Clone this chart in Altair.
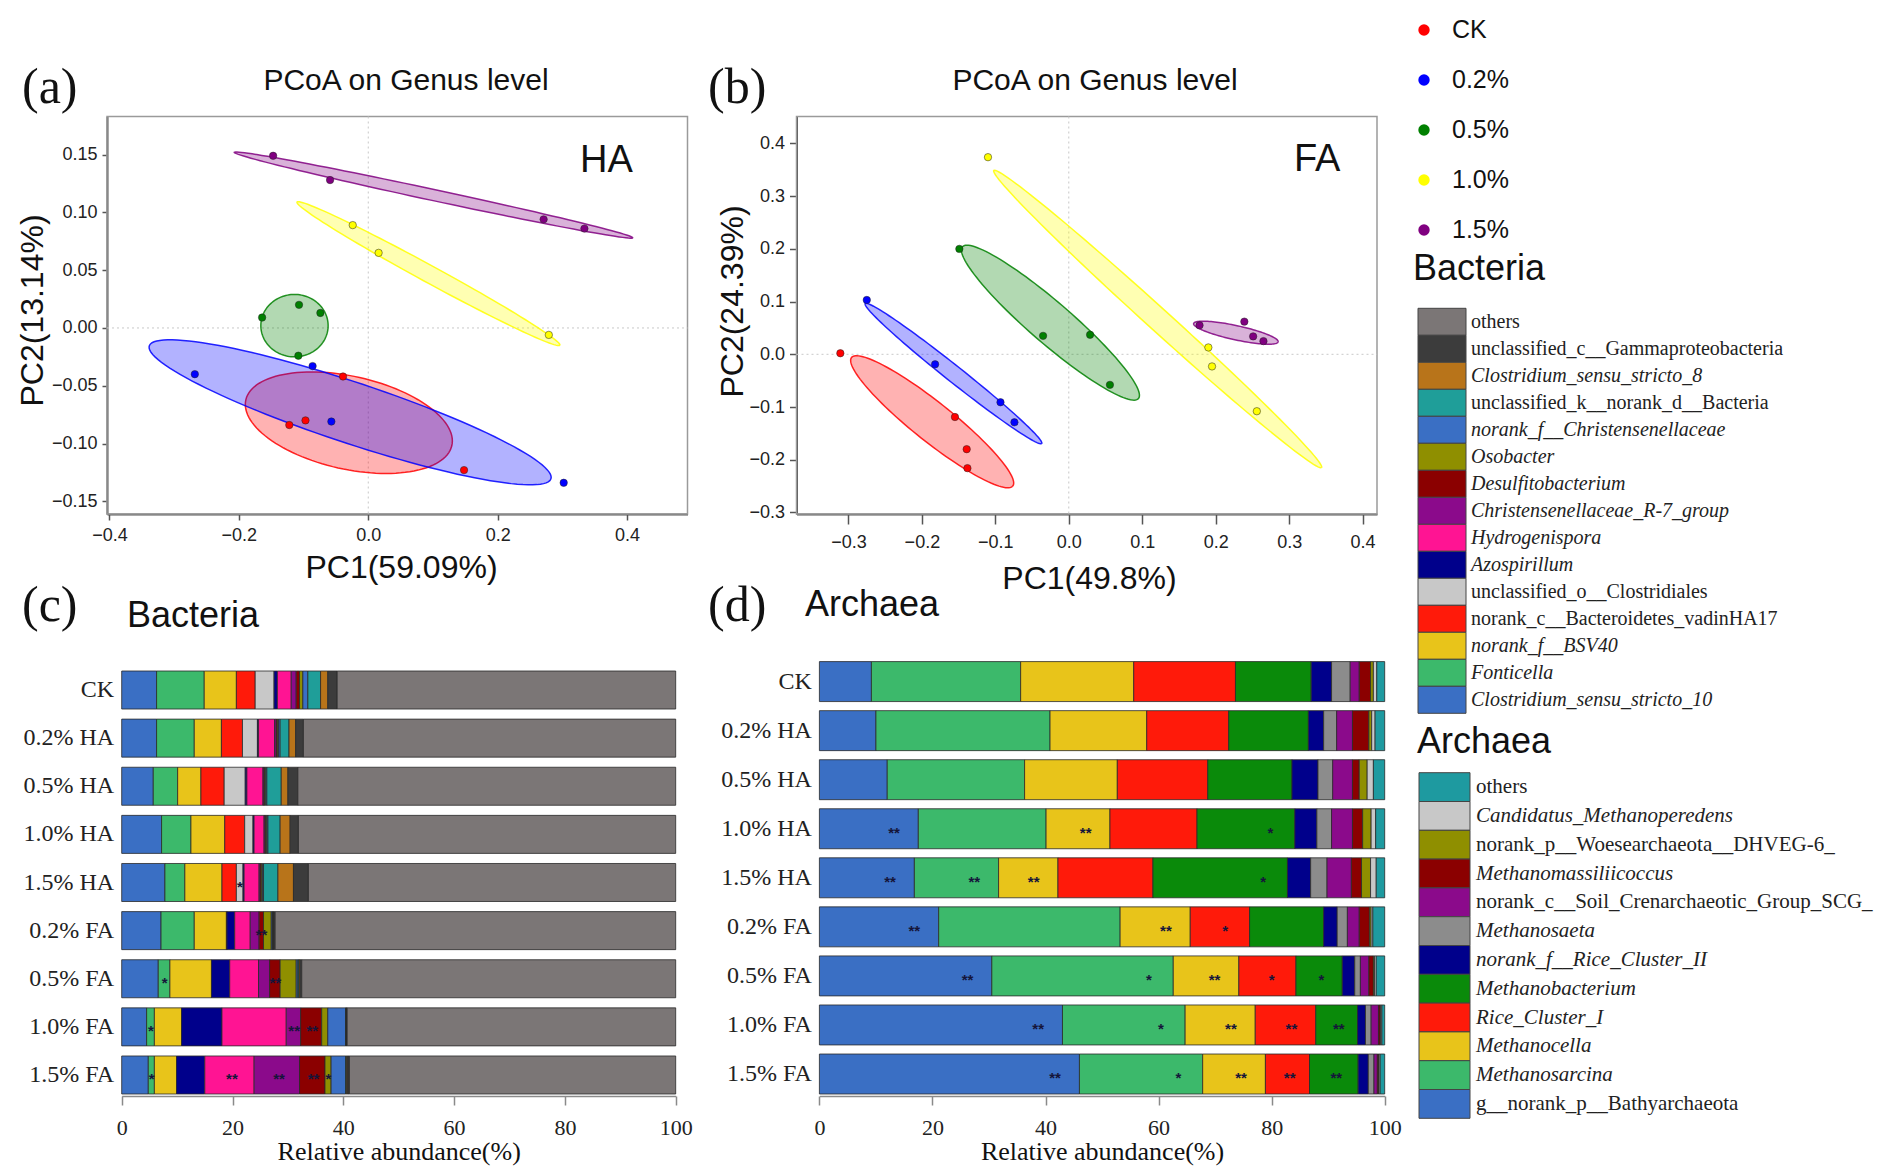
import altair as alt
import numpy as np
import pandas as pd

W, H = 1877, 1159

# ---------------- PCoA groups ----------------
groups = ["CK", "0.2%", "0.5%", "1.0%", "1.5%"]
group_colors = ["#ff0000", "#0000ff", "#008000", "#ffff00", "#800080"]

# (a) HA scores
ha_group = ["CK"] * 4 + ["0.2%"] * 4 + ["0.5%"] * 4 + ["1.0%"] * 3 + ["1.5%"] * 4
ha_pc1 = [-0.122, -0.097, -0.039, 0.148,
          -0.268, -0.086, -0.057, 0.302,
          -0.164, -0.107, -0.074, -0.108,
          -0.024, 0.016, 0.279,
          -0.147, -0.059, 0.271, 0.334]
ha_pc2 = [-0.084, -0.080, -0.042, -0.123,
          -0.040, -0.033, -0.081, -0.134,
          0.009, 0.020, 0.013, -0.024,
          0.089, 0.065, -0.006,
          0.149, 0.128, 0.094, 0.086]
# (a) ellipse centre, major and minor half-axis vectors (per group)
ha_ell_cx = [-0.030, -0.028, -0.114, 0.093, 0.101]
ha_ell_cy = [-0.082, -0.073, 0.002, 0.047, 0.115]
ha_ell_ax = [0.158, 0.310, 0.052, 0.203, 0.308]
ha_ell_ay = [-0.022, -0.058, 0.0, -0.062, -0.037]
ha_ell_bx = [-0.025, -0.0205, 0.0, -0.0083, -0.0026]
ha_ell_by = [-0.038, -0.024, 0.027, -0.0059, -0.0046]

# (b) FA scores
fa_group = ["CK"] * 4 + ["0.2%"] * 4 + ["0.5%"] * 4 + ["1.0%"] * 4 + ["1.5%"] * 4
fa_pc1 = [-0.311, -0.155, -0.139, -0.138,
          -0.275, -0.182, -0.093, -0.074,
          -0.149, -0.035, 0.029, 0.056,
          -0.110, 0.190, 0.195, 0.256,
          0.178, 0.239, 0.251, 0.265]
fa_pc2 = [0.002, -0.119, -0.180, -0.216,
          0.103, -0.019, -0.091, -0.129,
          0.200, 0.035, 0.037, -0.058,
          0.374, 0.013, -0.023, -0.108,
          0.055, 0.062, 0.034, 0.025]
fa_ell_cx = [-0.186, -0.157, -0.025, 0.121, 0.2275]
fa_ell_cy = [-0.128, -0.0365, 0.060, 0.067, 0.041]
fa_ell_ax = [0.109, 0.120, 0.119, 0.223, 0.0575]
fa_ell_ay = [-0.123, -0.133, -0.145, -0.282, -0.0176]
fa_ell_bx = [-0.021, -0.0088, -0.023, -0.0126, -0.0031]
fa_ell_by = [-0.024, -0.010, -0.024, -0.0126, -0.0129]

# ---------------- community composition ----------------
samples = ["CK", "0.2% HA", "0.5% HA", "1.0% HA", "1.5% HA",
           "0.2% FA", "0.5% FA", "1.0% FA", "1.5% FA"]

bac_names = ["Clostridium_sensu_stricto_10", "Fonticella", "norank_f__BSV40",
             "norank_c__Bacteroidetes_vadinHA17", "unclassified_o__Clostridiales",
             "Azospirillum", "Hydrogenispora", "Christensenellaceae_R-7_group",
             "Desulfitobacterium", "Osobacter", "norank_f__Christensenellaceae",
             "unclassified_k__norank_d__Bacteria", "Clostridium_sensu_stricto_8",
             "unclassified_c__Gammaproteobacteria", "others"]
bac_colors = ["#3a6fc4", "#3cb96b", "#e8c41a", "#ff1a0a", "#c8c8c8",
              "#00008b", "#ff1493", "#8b0a8b", "#8b0000", "#8f8f00",
              "#3a6fc4", "#1f9e99", "#b8741a", "#3c3c3c", "#7b7676"]
bac_italic = ["Clostridium_sensu_stricto_10", "Fonticella", "norank_f__BSV40",
              "Azospirillum", "Hydrogenispora", "Christensenellaceae_R-7_group",
              "Desulfitobacterium", "Osobacter", "norank_f__Christensenellaceae",
              "Clostridium_sensu_stricto_8"]

bac_ck = [6.3, 8.6, 5.8, 3.4, 3.4, 0.6, 2.5, 0.9, 0.6, 0.6, 0.9, 2.3, 1.3, 1.7, 61.1]
bac_02ha = [6.3, 6.8, 4.9, 3.8, 2.7, 0.2, 2.9, 0.3, 0.2, 0.2, 0.3, 1.6, 1.2, 1.4, 67.2]
bac_05ha = [5.7, 4.4, 4.2, 4.2, 3.8, 0.3, 2.9, 0.2, 0.1, 0.2, 0.2, 2.6, 1.2, 1.8, 68.2]
bac_10ha = [7.2, 5.3, 6.1, 3.6, 1.5, 0.2, 1.8, 0.2, 0.1, 0.2, 0.2, 2.2, 1.8, 1.5, 68.1]
bac_15ha = [7.8, 3.6, 6.7, 2.6, 1.2, 0.2, 2.7, 0.2, 0.2, 0.2, 0.2, 2.6, 2.8, 2.7, 66.3]
bac_02fa = [7.1, 6.0, 5.8, 0.1, 0.0, 1.4, 2.8, 1.6, 0.8, 1.4, 0.2, 0.1, 0.1, 0.3, 72.3]
bac_05fa = [6.6, 2.1, 7.5, 0.0, 0.0, 3.3, 5.2, 2.0, 1.9, 2.9, 0.3, 0.2, 0.2, 0.3, 67.5]
bac_10fa = [4.5, 1.4, 4.9, 0.0, 0.0, 7.3, 11.6, 2.6, 3.8, 1.1, 3.2, 0.1, 0.1, 0.1, 59.3]
bac_15fa = [4.8, 1.1, 4.0, 0.0, 0.0, 5.1, 8.9, 8.2, 4.6, 1.1, 2.6, 0.2, 0.2, 0.3, 58.9]

arc_names = ["g__norank_p__Bathyarchaeota", "Methanosarcina", "Methanocella",
             "Rice_Cluster_I", "Methanobacterium", "norank_f__Rice_Cluster_II",
             "Methanosaeta", "norank_c__Soil_Crenarchaeotic_Group_SCG_",
             "Methanomassiliicoccus", "norank_p__Woesearchaeota__DHVEG-6_",
             "Candidatus_Methanoperedens", "others"]
arc_colors = ["#3a6fc4", "#3cb96b", "#e8c41a", "#ff1a0a", "#0a8a0a", "#00008b",
              "#8c8c8c", "#8b0a8b", "#8b0000", "#8f8f00", "#c8c8c8", "#1e9aa0"]
arc_italic = ["Methanosarcina", "Methanocella", "Rice_Cluster_I", "Methanobacterium",
              "norank_f__Rice_Cluster_II", "Methanosaeta", "Methanomassiliicoccus",
              "Candidatus_Methanoperedens"]

arc_ck = [9.2, 26.4, 20.0, 18.0, 13.4, 3.6, 3.3, 1.6, 2.0, 0.5, 0.6, 1.4]
arc_02ha = [10.0, 30.8, 17.1, 14.5, 14.1, 2.7, 2.3, 2.8, 2.9, 0.5, 0.6, 1.7]
arc_05ha = [12.0, 24.3, 16.4, 16.0, 14.9, 4.6, 2.6, 3.5, 1.2, 1.4, 1.1, 2.0]
arc_10ha = [17.5, 22.6, 11.3, 15.4, 17.3, 3.9, 2.6, 3.7, 1.8, 1.5, 0.8, 1.6]
arc_15ha = [16.8, 14.9, 10.5, 16.8, 23.8, 4.1, 2.9, 4.3, 1.8, 1.6, 1.0, 1.5]
arc_02fa = [21.1, 32.1, 12.4, 10.5, 13.1, 2.4, 1.8, 2.1, 1.8, 0.3, 0.3, 2.1]
arc_05fa = [30.5, 32.1, 11.6, 10.1, 8.2, 2.2, 1.0, 1.5, 0.8, 0.2, 0.3, 1.5]
arc_10fa = [43.0, 21.7, 12.4, 10.7, 7.4, 1.4, 1.0, 1.3, 0.3, 0.1, 0.2, 0.5]
arc_15fa = [46.0, 21.8, 11.1, 7.8, 8.6, 1.8, 1.0, 0.6, 0.2, 0.1, 0.2, 0.8]

# significance marks
bac_star_sample = ["1.5% HA", "0.2% FA", "0.5% FA", "0.5% FA",
                   "1.0% FA", "1.0% FA", "1.0% FA",
                   "1.5% FA", "1.5% FA", "1.5% FA", "1.5% FA", "1.5% FA"]
bac_star_genus = ["unclassified_o__Clostridiales", "Desulfitobacterium", "Fonticella", "Desulfitobacterium",
                  "Fonticella", "Christensenellaceae_R-7_group", "Desulfitobacterium",
                  "Fonticella", "Hydrogenispora", "Christensenellaceae_R-7_group",
                  "Desulfitobacterium", "Osobacter"]
bac_star_label = ["*", "**", "*", "**", "*", "**", "**", "*", "**", "**", "**", "*"]

arc_star_sample = (["1.0% HA"] * 3 + ["1.5% HA"] * 4 + ["0.2% FA"] * 3 +
                   ["0.5% FA"] * 5 + ["1.0% FA"] * 5 + ["1.5% FA"] * 5)
arc_star_genus = (["g__norank_p__Bathyarchaeota", "Methanocella", "Methanobacterium"] +
                  ["g__norank_p__Bathyarchaeota", "Methanosarcina", "Methanocella", "Methanobacterium"] +
                  ["g__norank_p__Bathyarchaeota", "Methanocella", "Rice_Cluster_I"] +
                  ["g__norank_p__Bathyarchaeota", "Methanosarcina", "Methanocella", "Rice_Cluster_I", "Methanobacterium"] * 3)
arc_star_label = (["**", "**", "*"] + ["**", "**", "**", "*"] + ["**", "**", "*"] +
                  ["**", "*", "**", "*", "*"] + ["**", "*", "**", "**", "**"] + ["**", "*", "**", "**", "**"])

# ---------------- helpers ----------------
one = pd.DataFrame({"k": [0]})
SANS = "Liberation Sans"
SERIF = "Liberation Serif"
gscale = alt.Scale(domain=groups, range=group_colors)


def text(s, x, y, size, font=SANS, align="left", style="normal", color="#111111"):
    return alt.Chart(one).mark_text(
        text=s, align=align, baseline="alphabetic", fontSize=size, font=font,
        fontStyle=style, color=color
    ).encode(x=alt.value(x), y=alt.value(y))


def ellipse_df(cx, cy, ax, ay, bx, by):
    t = np.linspace(0, 2 * np.pi, 121)
    parts = []
    for gi, g in enumerate(groups):
        parts.append(pd.DataFrame({
            "group": g, "i": np.arange(len(t)),
            "x": cx[gi] + ax[gi] * np.cos(t) + bx[gi] * np.sin(t),
            "y": cy[gi] + ay[gi] * np.cos(t) + by[gi] * np.sin(t),
        }))
    return pd.concat(parts, ignore_index=True)


def pcoa(pts, ell, xdom, ydom, xr, yr, xvals, yvals, xfmt, yfmt, xtitle, ytitle,
         xtitle_x, xtitle_y, ytitle_x, ytitle_y, xtick, ytick, xpad, ypad):
    xs = alt.Scale(domain=xdom, range=xr, nice=False, zero=False)
    ys = alt.Scale(domain=ydom, range=yr, nice=False, zero=False)
    xaxis = alt.Axis(orient="bottom", offset=yr[0] - H, values=xvals, format=xfmt, grid=False,
                     tickSize=xtick, labelPadding=xpad, labelFont=SANS, labelFontSize=18,
                     labelColor="#222222", labelFlush=False, labelOverlap=False,
                     domainColor="#555555", domainWidth=2, tickColor="#555555", tickWidth=1.5,
                     title=xtitle, titleFont=SANS, titleFontSize=32, titleFontWeight="normal",
                     titleColor="#111111", titleX=xtitle_x, titleY=xtitle_y, titleAlign="center",
                     titleBaseline="middle")
    yaxis = alt.Axis(orient="left", offset=-xr[0], values=yvals, format=yfmt, grid=False,
                     tickSize=ytick, labelPadding=ypad, labelFont=SANS, labelFontSize=18,
                     labelColor="#222222", labelFlush=False, labelOverlap=False,
                     domainColor="#555555", domainWidth=2, tickColor="#555555", tickWidth=1.5,
                     title=ytitle, titleFont=SANS, titleFontSize=32, titleFontWeight="normal",
                     titleColor="#111111", titleX=ytitle_x - xr[0], titleY=ytitle_y,
                     titleAngle=270, titleAlign="center", titleBaseline="middle")
    frame = alt.Chart(one).mark_rect(
        fill="#ffffff", fillOpacity=0, stroke="#9a9a9a", strokeWidth=1.5
    ).encode(x=alt.value(xr[0]), x2=alt.value(xr[1]), y=alt.value(yr[1]), y2=alt.value(yr[0]))
    zx = alt.Chart(one).mark_rule(color="#c8c8c8", strokeDash=[2, 3], strokeWidth=1).encode(
        x=alt.X("k:Q", scale=xs, axis=xaxis), y=alt.value(yr[1]), y2=alt.value(yr[0]))
    zy = alt.Chart(one).mark_rule(color="#c8c8c8", strokeDash=[2, 3], strokeWidth=1).encode(
        y=alt.Y("k:Q", scale=ys, axis=yaxis), x=alt.value(xr[0]), x2=alt.value(xr[1]))
    ellipse = alt.Chart(ell).mark_line(strokeWidth=1.5, fillOpacity=0.3, strokeOpacity=0.85).encode(
        x=alt.X("x:Q", scale=xs, axis=xaxis),
        y=alt.Y("y:Q", scale=ys, axis=yaxis),
        order="i:Q", detail="group:N",
        color=alt.Color("group:N", scale=gscale, legend=None),
        fill=alt.Fill("group:N", scale=gscale, legend=None),
    )
    points = alt.Chart(pts).mark_circle(size=55, opacity=1, stroke="#222222", strokeWidth=0.5).encode(
        x=alt.X("pc1:Q", scale=xs, axis=xaxis),
        y=alt.Y("pc2:Q", scale=ys, axis=yaxis),
        color=alt.Color("group:N", scale=gscale, legend=None),
    )
    return alt.layer(frame, zx, zy, ellipse, points)


def make_stack(names, rows):
    recs = []
    for s, vals in zip(samples, rows):
        cum = 0.0
        for n, v in zip(names, vals):
            if v > 0:
                recs.append({"sample": s, "genus": n, "start": cum, "end": cum + v, "width": v})
            cum += v
    return pd.DataFrame(recs)


def make_stars(stack, ss, gg, ll):
    recs = []
    for s, g, l in zip(ss, gg, ll):
        row = stack[(stack["sample"] == s) & (stack["genus"] == g)].iloc[0]
        recs.append({"sample": s, "label": l, "sx": row["end"] - min(4.3, 0.45 * row["width"])})
    return pd.DataFrame(recs)


def bars(stack, stars, names, colors, xr, yr, pin):
    xs = alt.Scale(domain=[0, 100], range=xr, nice=False, zero=False)
    ys = alt.Scale(domain=samples, range=yr, paddingInner=pin, paddingOuter=0)
    cs = alt.Scale(domain=names, range=colors)
    xaxis = alt.Axis(orient="bottom", offset=1088 - H, values=[0, 20, 40, 60, 80, 100], grid=False,
                     tickSize=9, labelPadding=12, labelFont=SERIF, labelFontSize=22,
                     labelColor="#222222", labelFlush=False, labelOverlap=False,
                     domainColor="#8a8a8a", domainWidth=1.5, tickColor="#8a8a8a", tickWidth=1.5,
                     title="Relative abundance(%)", titleFont=SERIF, titleFontSize=26,
                     titleFontWeight="normal", titleColor="#111111",
                     titleX=(xr[0] + xr[1]) / 2, titleY=55, titleAlign="center", titleBaseline="middle")
    yaxis = alt.Axis(orient="left", offset=-xr[0], grid=False, ticks=False, domain=False,
                     labelPadding=8, labelFont=SERIF, labelFontSize=24, labelColor="#222222",
                     title="")
    b = alt.Chart(stack).mark_bar(stroke="#2a2a2a", strokeWidth=0.8).encode(
        x=alt.X("start:Q", scale=xs, axis=xaxis), x2="end:Q",
        y=alt.Y("sample:N", scale=ys, axis=yaxis),
        color=alt.Color("genus:N", scale=cs, legend=None),
    )
    st = alt.Chart(stars).mark_text(font=SANS, fontSize=15, fontWeight="bold", color="#15153a",
                                    baseline="middle", dy=4).encode(
        x=alt.X("sx:Q", scale=xs, axis=xaxis),
        y=alt.Y("sample:N", scale=ys, axis=yaxis),
        text="label:N",
    )
    return alt.layer(b, st)


def legend(names, colors, italic, x0, x1, yr, lx, size):
    order = list(reversed(names))
    df = pd.DataFrame({"name": order, "it": [n in italic for n in order]})
    ys = alt.Scale(domain=order, range=yr, paddingInner=0, paddingOuter=0)
    cs = alt.Scale(domain=names, range=colors)
    sw = alt.Chart(df).mark_rect(stroke="#444444", strokeWidth=1).encode(
        x=alt.value(x0), x2=alt.value(x1),
        y=alt.Y("name:N", scale=ys, axis=None),
        color=alt.Color("name:N", scale=cs, legend=None),
    )
    t1 = alt.Chart(df[~df["it"]]).mark_text(align="left", baseline="middle", font=SERIF,
                                             fontSize=size, color="#222222").encode(
        x=alt.value(lx), y=alt.Y("name:N", scale=ys, axis=None), text="name:N")
    t2 = alt.Chart(df[df["it"]]).mark_text(align="left", baseline="middle", font=SERIF,
                                            fontSize=size, fontStyle="italic", color="#222222").encode(
        x=alt.value(lx), y=alt.Y("name:N", scale=ys, axis=None), text="name:N")
    return alt.layer(sw, t1, t2)


# ---------------- build ----------------
ha_pts = pd.DataFrame({"group": ha_group, "pc1": ha_pc1, "pc2": ha_pc2})
fa_pts = pd.DataFrame({"group": fa_group, "pc1": fa_pc1, "pc2": fa_pc2})
ha_ell = ellipse_df(ha_ell_cx, ha_ell_cy, ha_ell_ax, ha_ell_ay, ha_ell_bx, ha_ell_by)
fa_ell = ellipse_df(fa_ell_cx, fa_ell_cy, fa_ell_ax, fa_ell_ay, fa_ell_bx, fa_ell_by)

panel_a = pcoa(ha_pts, ha_ell, [-0.4037, 0.4933], [-0.161, 0.183], [99, 679.5], [506, 108.5],
               [-0.4, -0.2, 0.0, 0.2, 0.4], [-0.15, -0.1, -0.05, 0.0, 0.05, 0.1, 0.15],
               ".1f", ".2f", "PC1(59.09%)", "PC2(13.14%)", 393, 53, 24, 302, 6, 5, 6, 5)
panel_b = pcoa(fa_pts, fa_ell, [-0.3707, 0.4196], [-0.303, 0.4512], [788.5, 1369], [506, 108.5],
               [-0.3, -0.2, -0.1, 0.0, 0.1, 0.2, 0.3, 0.4], [-0.3, -0.2, -0.1, 0.0, 0.1, 0.2, 0.3, 0.4],
               ".1f", ".1f", "PC1(49.8%)", "PC2(24.39%)", 1081, 64, 724, 293, 10, 7, 9, 5)

bac_stack = make_stack(bac_names, [bac_ck, bac_02ha, bac_05ha, bac_10ha, bac_15ha,
                                   bac_02fa, bac_05fa, bac_10fa, bac_15fa])
arc_stack = make_stack(arc_names, [arc_ck, arc_02ha, arc_05ha, arc_10ha, arc_15ha,
                                   arc_02fa, arc_05fa, arc_10fa, arc_15fa])
bac_stars = make_stars(bac_stack, bac_star_sample, bac_star_genus, bac_star_label)
arc_stars = make_stars(arc_stack, arc_star_sample, arc_star_genus, arc_star_label)

panel_c = bars(bac_stack, bac_stars, bac_names, bac_colors, [113.7, 667.7], [663, 1086], 0.21)
panel_d = bars(arc_stack, arc_stars, arc_names, arc_colors, [811.4, 1376.7], [653.6, 1086], 0.185)

gdf = pd.DataFrame({"group": groups})
gys = alt.Scale(domain=groups, type="point", range=[22, 222], padding=0)
leg_groups = alt.layer(
    alt.Chart(gdf).mark_circle(size=130, opacity=1).encode(
        x=alt.value(1416), y=alt.Y("group:N", scale=gys, axis=None),
        color=alt.Color("group:N", scale=gscale, legend=None)),
    alt.Chart(gdf).mark_text(align="left", baseline="middle", font=SANS, fontSize=25,
                             color="#111111").encode(
        x=alt.value(1444), y=alt.Y("group:N", scale=gys, axis=None), text="group:N"),
)
leg_bac = legend(bac_names, bac_colors, bac_italic, 1410, 1458, [300.3, 705.3], 1463, 20)
leg_arc = legend(arc_names, arc_colors, arc_italic, 1411, 1462, [764.7, 1110.3], 1468, 21)

titles = [
    text("(a)", 14, 95, 50, font=SERIF),
    text("PCoA on Genus level", 398, 82, 30, align="center"),
    text("HA", 572, 164, 38),
    text("(b)", 700, 95, 50, font=SERIF),
    text("PCoA on Genus level", 1087, 82, 30, align="center"),
    text("FA", 1286, 163, 38),
    text("(c)", 14, 613, 50, font=SERIF),
    text("Bacteria", 119, 619, 36),
    text("(d)", 700, 613, 50, font=SERIF),
    text("Archaea", 797, 608, 36),
    text("Bacteria", 1405, 272, 36),
    text("Archaea", 1409, 745, 36),
]

chart = alt.layer(
    panel_a, panel_b, panel_c, panel_d, leg_groups, leg_bac, leg_arc, *titles
).resolve_scale(
    x="independent", y="independent", color="independent", fill="independent"
).resolve_axis(
    x="independent", y="independent"
).properties(
    width=W, height=H, autosize=alt.AutoSizeParams(type="none"), padding=0, background="white"
).configure_view(strokeWidth=0)

chart.save("out.html", embed_options={"renderer": "svg", "actions": False})
